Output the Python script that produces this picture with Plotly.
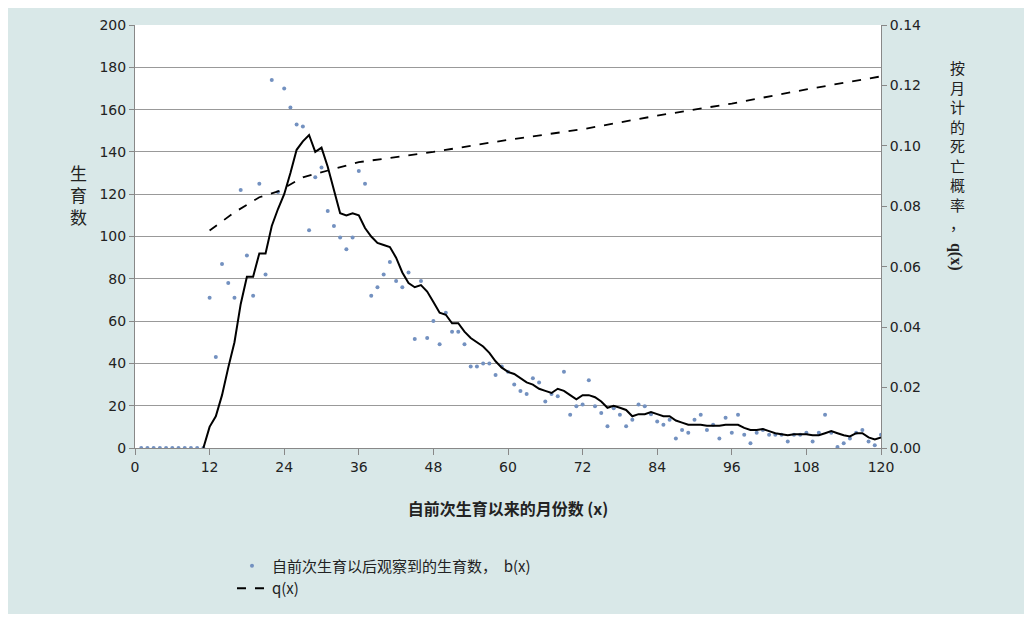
import plotly.graph_objects as go

months = list(range(1, 121))
births = [0]*11 + [71, 43, 87, 78, 71, 122, 91, 72, 125, 82,
          174, 121, 170, 161, 153, 152, 103, 128, 132.6, 112,
          105, 99.5, 94, 99.5, 131, 125, 72, 76, 82, 88,
          79, 76, 83, 51.5, 79, 52, 60, 49, 64, 55,
          55, 49, 38.5, 38.5, 40, 40, 34.5, 38.5, 36, 30,
          27, 25.5, 33, 31, 22, 25.5, 24.5, 36, 15.7, 19.7,
          20.6, 32, 19.7, 16.5, 10.3, 18.8, 15.7, 10.3, 13.4, 20.6,
          19.7, 16, 12.5, 11, 13.4, 4.5, 8.5, 7.2, 13.4, 15.7,
          8.5, 11, 4.5, 14.3, 7.2, 15.7, 6.3, 2.2, 7.2, 8.5,
          6.3, 6.3, 6.3, 3.1, 6.3, 6.3, 7.2, 3.1, 7.2, 15.7,
          7.2, 0.5, 2.2, 4.5, 7.2, 8.5, 3.1, 1.3, 6.3]
smooth_x = list(range(11, 121))
smooth = [0, 10, 15, 25, 38, 50, 68, 81, 81, 92, 92,
          105, 113, 120, 130, 141, 145, 148, 140, 142, 133,
          122, 111, 110, 111, 110, 104, 100, 97, 96, 95,
          90, 83, 78, 76, 77, 74, 69, 64, 63, 59,
          59, 55, 52, 50, 48, 45, 41, 38, 36, 35,
          33, 31, 30, 28, 27, 26, 28, 27, 25, 23,
          25, 25, 24, 22, 19, 20, 19, 18, 15, 16,
          16, 17, 16, 15, 15, 13, 12, 11, 11, 11,
          10.5, 10.5, 10.5, 11, 11, 11, 9.5, 8.5, 8.5, 9,
          8, 7, 6.5, 6, 6.5, 6.5, 6.5, 6, 6, 7,
          8, 7, 6, 5.5, 7, 7, 5, 4, 5]
q_x = [12, 16, 20, 23, 27, 36, 48, 60, 72, 84, 96, 108, 120]
q_val = [0.072, 0.078, 0.083, 0.0849, 0.0896, 0.0946, 0.098, 0.102,
         0.1055, 0.110, 0.114, 0.1187, 0.123]

font = dict(family="DejaVu Sans", size=14, color="#222")
fig = go.Figure()
fig.add_trace(go.Scatter(x=months, y=births, mode="markers",
                         marker=dict(size=4, color="#7391c0"),
                         name="自前次生育以后观察到的生育数，  b(x)"))
fig.add_trace(go.Scatter(x=smooth_x, y=smooth, mode="lines",
                         line=dict(color="black", width=2), showlegend=False))
fig.add_trace(go.Scatter(x=q_x, y=q_val, mode="lines", yaxis="y2",
                         line=dict(color="black", width=1.8, dash="dash"),
                         name="q(x)"))

fig.update_layout(
    width=1016, height=606, paper_bgcolor="#d9e8e8", plot_bgcolor="white",
    margin=dict(l=127, r=143, t=9, b=150), font=font,
    xaxis=dict(range=[0, 120], tickvals=list(range(0, 121, 12)), ticks="outside",
               ticklen=6, tickcolor="#888", showgrid=False, showline=True,
               linecolor="#888", zeroline=False,
               title=dict(text="<b>自前次生育以来的月份数 (x)</b>", standoff=30,
                          font=dict(family="Noto Sans CJK SC", size=16))),
    yaxis=dict(range=[0, 200], dtick=20, gridcolor="#999", showline=True,
               linecolor="#888", ticks="outside", ticklen=5, tickcolor="#888",
               zeroline=False),
    yaxis2=dict(range=[0, 0.14], dtick=0.02, tickformat=".2f", overlaying="y",
                side="right", showgrid=False, showline=True, linecolor="#888",
                ticks="outside", ticklen=5, tickcolor="#888", zeroline=False),
    legend=dict(orientation="h", x=0.13, y=-0.24, xanchor="left",
                bgcolor="rgba(0,0,0,0)", entrywidth=500,
                font=dict(family="Noto Sans CJK SC", size=15)),
    annotations=[
        dict(text="生<br>育<br>数", x=-0.09, y=0.6, xref="paper", yref="paper",
             showarrow=False, font=dict(family="Noto Sans CJK SC", size=17)),
        dict(text="按<br>月<br>计<br>的<br>死<br>亡<br>概<br>率<br>，", x=1.115, y=0.93,
             xref="paper", yref="paper", showarrow=False, yanchor="top",
             font=dict(family="Noto Sans CJK SC", size=15), align="center"),
        dict(text="<b>q(x)</b>", x=1.115, y=0.49, xref="paper", yref="paper",
             yanchor="top", showarrow=False, textangle=90,
             font=dict(family="Liberation Serif", size=16)),
    ],
)
fig.write_html("out.html")
